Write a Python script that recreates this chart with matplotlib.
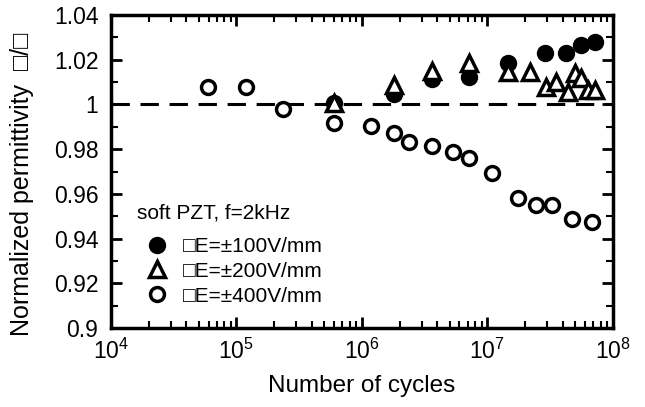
import numpy as np
import matplotlib.pyplot as plt
from matplotlib.ticker import LogLocator, MultipleLocator, NullFormatter

plt.rcParams['font.family'] = ['Liberation Sans', 'DejaVu Sans']
plt.rcParams['mathtext.fontset'] = 'custom'
plt.rcParams['mathtext.rm'] = 'Liberation Sans'

# dE = +-100 V/mm (filled circles)
n100 = [6.0e5, 1.8e6, 3.6e6, 7.1e6, 1.47e7, 2.87e7, 4.27e7, 5.6e7, 7.2e7]
e100 = [1.0005, 1.0045, 1.0114, 1.0121, 1.0184, 1.0229, 1.0229, 1.0267, 1.0281]

# dE = +-200 V/mm (open triangles)
n200 = [6.0e5, 1.8e6, 3.6e6, 7.1e6, 1.47e7, 2.18e7, 2.96e7, 3.56e7, 4.4e7,
        5.0e7, 5.6e7, 6.35e7, 7.2e7]
e200 = [1.0008, 1.0087, 1.0150, 1.0184, 1.0146, 1.0146, 1.0079, 1.0102, 1.0057,
        1.0139, 1.0117, 1.0065, 1.0065]

# dE = +-400 V/mm (open circles)
n400 = [5.9e4, 1.19e5, 2.36e5, 6.0e5, 1.19e6, 1.8e6, 2.38e6, 3.6e6, 5.35e6,
        7.1e6, 1.09e7, 1.76e7, 2.46e7, 3.25e7, 4.7e7, 6.8e7]
e400 = [1.0077, 1.0077, 0.9978, 0.9916, 0.9905, 0.9871, 0.9831, 0.9816, 0.9789,
        0.9762, 0.9692, 0.9580, 0.9550, 0.9550, 0.9488, 0.9476]

fig = plt.figure(figsize=(6.45, 4.07), dpi=100)
ax = fig.add_axes([0.172, 0.194, 0.778, 0.769])

ax.axhline(1.0, color='black', lw=2.2, ls=(0, (6, 3.5)), zorder=1)

ax.plot(n400, e400, 'o', ms=10, mfc='white', mec='black', mew=2.5,
        label='\u25a1E=\u00b1400V/mm', zorder=2)
ax.plot(n100, e100, 'o', ms=11.5, mfc='black', mec='black', mew=1,
        label='\u25a1E=\u00b1100V/mm', zorder=3)
ax.plot(n200, e200, '^', ms=12, mfc='white', mec='black', mew=2.5,
        label='\u25a1E=\u00b1200V/mm', zorder=4)

ax.set_xscale('log')
ax.set_xlim(1e4, 1e8)
ax.set_ylim(0.9, 1.04)
ax.xaxis.set_major_locator(LogLocator(base=10, numticks=10))
ax.xaxis.set_minor_locator(LogLocator(base=10, subs=np.arange(2, 10), numticks=20))
ax.xaxis.set_minor_formatter(NullFormatter())
ax.yaxis.set_minor_locator(MultipleLocator(0.01))
ax.set_yticks([0.9, 0.92, 0.94, 0.96, 0.98, 1.0, 1.02, 1.04])
ax.set_yticklabels(['0.9', '0.92', '0.94', '0.96', '0.98', '1', '1.02', '1.04'])

ax.tick_params(which='both', direction='in', top=True, right=True, labelsize=16.5,
               color='black')
ax.tick_params(which='major', length=8, width=2, pad=8)
ax.tick_params(axis='y', which='major', pad=9)
ax.tick_params(which='minor', length=5, width=1.5)
for s in ax.spines.values():
    s.set_linewidth(2.5)

ax.set_xlabel('Number of cycles', fontsize=17.5, labelpad=8)
ax.set_ylabel('Normalized permittivity  \u25a1/\u25a1', fontsize=18)
ax.yaxis.set_label_coords(-0.153, 0.46)

ax.text(0.052, 0.367, 'soft PZT, f=2kHz', transform=ax.transAxes,
        fontsize=15, ha='left', va='center')

h, l = ax.get_legend_handles_labels()
order = [1, 2, 0]
leg = ax.legend([h[i] for i in order], [l[i] for i in order],
                loc='lower left', bbox_to_anchor=(0.055, 0.045),
                frameon=False, fontsize=15, handlelength=1.0,
                handletextpad=0.75, labelspacing=0.28, borderaxespad=0.2,
                borderpad=0.2)

fig.savefig('out.png', dpi=100)
